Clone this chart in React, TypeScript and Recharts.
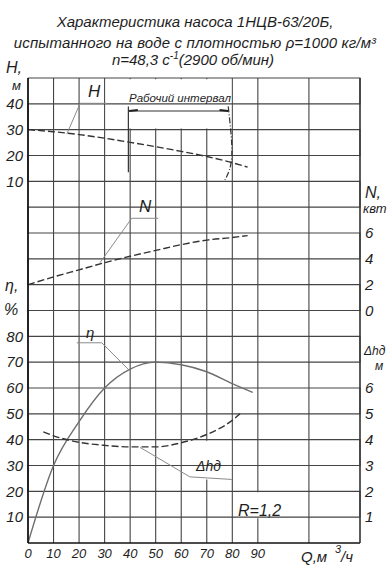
import {
  ComposedChart,
  Line,
  XAxis,
  YAxis,
  CartesianGrid,
  ReferenceArea,
  ReferenceLine,
} from 'recharts';

// подача, м3/ч, и значения кривых
const headQ = [0, 10, 20, 30, 40, 50, 60, 70, 80, 86];
const headM = [30, 29.2, 28.1, 26.7, 25.1, 23.4, 21.6, 19.6, 17.2, 15.5];

const powerQ = [0, 10, 20, 30, 40, 50, 60, 70, 80, 86];
const powerKw = [2.0, 2.6, 3.15, 3.7, 4.2, 4.65, 5.1, 5.45, 5.65, 5.8];

const effQ = [0, 10, 20, 30, 40, 50, 60, 70, 80, 88];
const effPct = [0, 30, 47, 60, 67.3, 70, 69, 66.3, 61.7, 58.3];

const npshQ = [6, 10, 20, 30, 40, 50, 60, 70, 80, 83];
const npshM = [4.3, 4.15, 3.9, 3.78, 3.72, 3.72, 3.88, 4.2, 4.75, 5.0];

// подписи осей
const qTicks = [0, 10, 20, 30, 40, 50, 60, 70, 80, 90];
const headTicks = [10, 20, 30, 40];
const effTicks = [10, 20, 30, 40, 50, 60, 70, 80];
const powerTicks = [0, 2, 4, 6];
const npshTicks = [1, 2, 3, 4, 5, 6];

// all curves share one square grid (0..130 by 0..180), each scale is shifted on it
const gridX = Array.from({ length: 14 }, (_, i) => i * 10);
const gridY = Array.from({ length: 18 }, (_, i) => (i + 1) * 10);
const hToGrid = (h: number) => 130 + h;
const nToGrid = (n: number) => 90 + 5 * n;
const dhToGrid = (d: number) => 10 * d;

const headData = headQ.map((q, i) => ({ q, y: hToGrid(headM[i]) }));
const powerData = powerQ.map((q, i) => ({ q, y: nToGrid(powerKw[i]) }));
const effData = effQ.map((q, i) => ({ q, y: effPct[i] }));
const npshData = npshQ.map((q, i) => ({ q, y: dhToGrid(npshM[i]) }));

// horizontal grid rows as one zig-zag path (the turns fall on the plot borders)
const xMin = gridX[0];
const xMax = gridX[gridX.length - 1];
const gridSnake = gridY.flatMap((v, i) =>
  i % 2 === 0
    ? [{ q: xMin, y: v }, { q: xMax, y: v }]
    : [{ q: xMax, y: v }, { q: xMin, y: v }]
);

// рабочий интервал (правая скобка)
const bracketRight = [
  { q: 78.4, y: 169 },
  { q: 79.8, y: 150 },
  { q: 77.1, y: 140.5 },
];

const font = '"Liberation Sans", Arial, sans-serif';
const ink = '#1e1e1e';
const gridColor = '#444';
const leader = '#8a8a8a';

const leftFmt = (v: number) => (v > 100 ? String(v - 130) : String(v));
const rightFmt = (v: number) => (v >= 90 ? String((v - 90) / 5) : String(v / 10));

const rowsFromScale = (props: any) => {
  const axis = props && props.yAxis;
  if (!axis || typeof axis.scale !== 'function') return [];
  return gridY.map((v) => axis.scale(v));
};

export default function App() {
  const tickStyle = { fontFamily: font, fontStyle: 'italic', fontSize: 15, fill: ink };
  return (
    <div style={{ position: 'absolute', left: 0, top: 0, width: 390, height: 575, background: '#fff' }}>
      <ComposedChart width={390} height={575} margin={{ top: 78, right: 0, bottom: 2, left: 0 }}>
        <CartesianGrid
          verticalValues={gridX}
          horizontalCoordinatesGenerator={rowsFromScale}
          stroke={gridColor}
          strokeWidth={1.1}
        />
        <XAxis
          type="number"
          dataKey="q"
          domain={[0, 130]}
          ticks={qTicks}
          tickLine={false}
          tickSize={4}
          height={30}
          axisLine={{ stroke: '#111', strokeWidth: 1.6 }}
          tick={{ ...tickStyle, fontSize: 13 }}
        />
        <YAxis
          type="number"
          domain={[0, 180]}
          ticks={[...effTicks, ...headTicks.map(hToGrid)]}
          tickFormatter={leftFmt}
          tickLine={false}
          tickSize={3}
          width={28}
          interval={0}
          axisLine={{ stroke: '#111', strokeWidth: 1.6 }}
          tick={tickStyle}
        />
        <YAxis
          yAxisId="r"
          orientation="right"
          type="number"
          domain={[0, 180]}
          ticks={[...npshTicks.map(dhToGrid), ...powerTicks.map(nToGrid)]}
          tickFormatter={rightFmt}
          tickLine={false}
          tickSize={3}
          width={30}
          interval={0}
          axisLine={{ stroke: '#333', strokeWidth: 1.2 }}
          tick={tickStyle}
        />

        {/* horizontal grid rows */}
        <Line
          data={gridSnake}
          dataKey="y"
          type="linear"
          stroke={gridColor}
          strokeWidth={1.1}
          dot={false}
          activeDot={false}
          isAnimationActive={false}
        />

        {/* white patches behind the labels */}
        <ReferenceArea x1={30.4} x2={79.6} y1={160.5} y2={179.5} fill="#fff" fillOpacity={1} stroke="none" />
        <ReferenceArea x1={60.5} x2={79.6} y1={24.6} y2={39.6} fill="#fff" fillOpacity={1} stroke="none" />
        <ReferenceArea x1={80.5} x2={99.6} y1={9.6} y2={19.6} fill="#fff" fillOpacity={1} stroke="none" />

        <Line data={effData} dataKey="y" type="monotone" stroke="#6e6e6e" strokeWidth={1.4} dot={false} isAnimationActive={false} />
        <Line data={headData} dataKey="y" type="monotone" stroke="#333" strokeWidth={1.4} strokeDasharray="7 3" dot={false} isAnimationActive={false} />
        <Line yAxisId="r" data={powerData} dataKey="y" type="monotone" stroke="#333" strokeWidth={1.4} strokeDasharray="7 3" dot={false} isAnimationActive={false} />
        <Line yAxisId="r" data={npshData} dataKey="y" type="monotone" stroke="#333" strokeWidth={1.4} strokeDasharray="7 3" dot={false} isAnimationActive={false} />
        <Line data={bracketRight} dataKey="y" type="natural" stroke="#333" strokeWidth={1.2} strokeDasharray="6 2 1 2" dot={false} isAnimationActive={false} />

        {/* выноски */}
        <ReferenceLine segment={[{ x: 15.2, y: 158.3 }, { x: 20.4, y: 170.2 }]} stroke={leader} />
        <ReferenceLine segment={[{ x: 20.4, y: 170.2 }, { x: 30.9, y: 170.2 }]} stroke={leader} />
        <ReferenceLine segment={[{ x: 28.2, y: 108.5 }, { x: 40.6, y: 125.7 }]} stroke={leader} />
        <ReferenceLine segment={[{ x: 40.6, y: 125.7 }, { x: 51, y: 125.7 }]} stroke={leader} />
        <ReferenceLine segment={[{ x: 19.1, y: 77.5 }, { x: 28.9, y: 77.5 }]} stroke={leader} />
        <ReferenceLine segment={[{ x: 28.9, y: 77.5 }, { x: 39.3, y: 67.2 }]} stroke={leader} />
        <ReferenceLine segment={[{ x: 43.9, y: 37 }, { x: 63.4, y: 25.6 }]} stroke={leader} />
        <ReferenceLine segment={[{ x: 63.4, y: 25.6 }, { x: 79.8, y: 24.6 }]} stroke={leader} />

        {/* рабочий интервал */}
        <ReferenceLine segment={[{ x: 39.3, y: 169 }, { x: 39.3, y: 143.5 }]} stroke="#333" strokeWidth={1.2} />
        <ReferenceLine segment={[{ x: 39.6, y: 167.2 }, { x: 78.4, y: 167.2 }]} stroke="#333" strokeWidth={1.1} />
        <ReferenceLine segment={[{ x: 39.6, y: 167.2 }, { x: 43, y: 167.6 }]} stroke="#222" strokeWidth={2} />
        <ReferenceLine segment={[{ x: 75, y: 167.6 }, { x: 78.4, y: 167.2 }]} stroke="#222" strokeWidth={2} />
      </ComposedChart>

      <svg
        width={390}
        height={575}
        style={{ position: 'absolute', left: 0, top: 0, pointerEvents: 'none' }}
        fontFamily={font}
        fontStyle="italic"
        fill={ink}
      >
        <text x={195} y={27} fontSize={15} textAnchor="middle">
          Характеристика насоса 1НЦВ-63/20Б,
        </text>
        <text x={195} y={48} fontSize={15} textAnchor="middle" letterSpacing={0.15}>
          испытанного  на воде с плотностью ρ=1000 кг/м³
        </text>
        <text x={193} y={65} fontSize={15} textAnchor="middle">
          n=48,3 с
          <tspan dy={-6} fontSize={10}>-1</tspan>
          <tspan dy={6}>(2900 об/мин)</tspan>
        </text>

        <text x={6} y={73} fontSize={16}>H,</text>
        <text x={12} y={90} fontSize={13}>м</text>
        <text x={5} y={291} fontSize={16}>η,</text>
        <text x={4} y={315} fontSize={16}>%</text>

        <text x={365} y={198} fontSize={16}>N,</text>
        <text x={363} y={213} fontSize={13}>квт</text>
        <text x={364} y={355} fontSize={12}>Δhд</text>
        <text x={375} y={370} fontSize={12}>м</text>

        <text x={301} y={562} fontSize={15}>Q,м</text>
        <text x={335} y={553} fontSize={11}>3</text>
        <text x={341} y={562} fontSize={15}>/ч</text>

        <text x={180} y={102} fontSize={11.5} textAnchor="middle">Рабочий интервал</text>
        <text x={88} y={97} fontSize={17}>H</text>
        <text x={139} y={212} fontSize={17}>N</text>
        <text x={86} y={338} fontSize={15}>η</text>
        <text x={196} y={471} fontSize={14}>Δhд</text>
        <text x={238} y={516} fontSize={16}>R=1,2</text>
      </svg>
    </div>
  );
}
